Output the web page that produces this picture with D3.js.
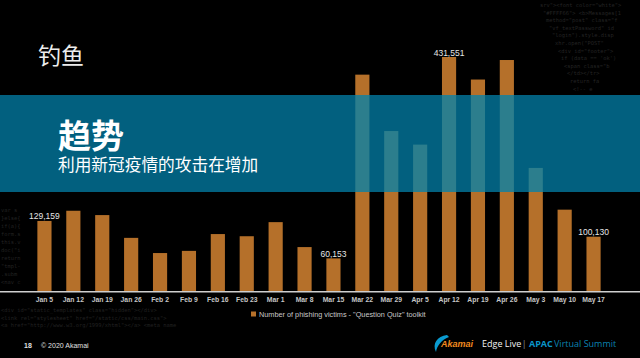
<!DOCTYPE html>
<html>
<head>
<meta charset="utf-8">
<script src="https://cdn.jsdelivr.net/npm/d3@7"></script>
<style>
html,body{margin:0;padding:0;background:#000;}
svg{display:block;}
</style>
</head>
<body>
<svg id="c" width="640" height="358"></svg>
<script>
const categories = ["Jan 5","Jan 12","Jan 19","Jan 26","Feb 2","Feb 9","Feb 16","Feb 23","Mar 1","Mar 8","Mar 15","Mar 22","Mar 29","Apr 5","Apr 12","Apr 19","Apr 26","May 3","May 10","May 17"];
const victims = [129159,148000,140000,98000,70000,74000,105000,101000,127000,81000,60153,399000,295000,270000,431551,390000,426000,227000,150000,100130];
const labelledIndices = [0,10,14,19];
const seriesName = "Number of phishing victims - \"Question Quiz\" toolkit";
const pageTitle = "钓鱼";
const bannerTitle = "趋势";
const bannerSubtitle = "利用新冠疫情的攻击在增加";
const codeLinesTop = [
  "srv\"><font color=\"white\">",
  " \"#FFFF66\"> <b>Messages[1",
  "  method=\"post\" class=\"f",
  "   \"vf_textPassword\" id",
  "    \"login\").style.disp",
  "      xhr.open(\"POST\"",
  "      <div id=\"footer\">",
  "        if (data == 'ok')",
  "         <span class=\"b",
  "           </td></tr>",
  "            return fa",
  "              <!-- e"
];
const codeLinesLeft = [
  "var s", "}else{", "if(a){", "form.s", "this.v",
  "doc(\"i", "return", "\"tmpl-", ".subm", "<nav c"
];
const codeLinesBottom = [
  "<div id=\"static_templates\" class=\"hidden\"></div>",
  "<link rel=\"stylesheet\" href=\"/static/css/main.css\">",
  "<a href=\"http://www.w3.org/1999/xhtml\"></a> <meta name"
];

const svg = d3.select("#c");
const W = 640, H = 358;
svg.append("rect").attr("width", W).attr("height", H).attr("fill", "#000");

// faint code texture
const mono = "DejaVu Sans Mono, monospace";
svg.append("g").selectAll("text").data(codeLinesTop).join("text")
  .attr("x", (d, i) => 540 + i * 3)
  .attr("y", (d, i) => 7 + i * 7.6)
  .attr("font-family", mono).attr("font-size", 5.4)
  .attr("fill", "#242424").text(d => d);
svg.append("g").selectAll("text").data(codeLinesLeft).join("text")
  .attr("x", 1)
  .attr("y", (d, i) => 212 + i * 8)
  .attr("font-family", mono).attr("font-size", 5.4)
  .attr("fill", "#222").text(d => d);
svg.append("g").selectAll("text").data(codeLinesBottom).join("text")
  .attr("x", 1)
  .attr("y", (d, i) => 312 + i * 7.5)
  .attr("font-family", mono).attr("font-size", 5.4)
  .attr("fill", "#202020").text(d => d);

// scales
const x = d3.scaleBand().domain(categories).range([30, 608]).paddingInner(0.51).paddingOuter(0.255);
const y = d3.scaleLinear().domain([0, 431551]).range([291, 57]);

// bars
const barColor = "#B5702A";
svg.append("g").selectAll("rect").data(victims).join("rect")
  .attr("x", (d, i) => x(categories[i]))
  .attr("y", d => y(d))
  .attr("width", x.bandwidth())
  .attr("height", d => y(0) - y(d))
  .attr("fill", barColor);

// axis
const axis = d3.axisBottom(x).tickSize(0).tickPadding(6);
const ag = svg.append("g").attr("transform", "translate(0,291)").call(axis);
ag.select(".domain").remove();
ag.selectAll("text")
  .attr("font-family", "Liberation Sans, Arial, sans-serif")
  .attr("font-size", 6.8).attr("font-weight", "bold").attr("fill", "#c6c6c6");
svg.append("line").attr("x1", 0).attr("x2", 640).attr("y1", 291.8).attr("y2", 291.8)
  .attr("stroke", "#cfcfcf").attr("stroke-width", 1.5);

// data labels
svg.append("g").selectAll("text").data(labelledIndices).join("text")
  .attr("x", i => x(categories[i]) + x.bandwidth() / 2)
  .attr("y", i => y(victims[i]) - 1.5)
  .attr("text-anchor", "middle")
  .attr("font-family", "Liberation Sans, Arial, sans-serif")
  .attr("font-size", 8.5).attr("fill", "#e6e6e6")
  .text(i => d3.format(",")(victims[i]));

// banner
const bannerTop = 95, bannerBottom = 192;
svg.append("rect").attr("x", 0).attr("y", bannerTop).attr("width", W).attr("height", bannerBottom - bannerTop)
  .attr("fill", "#02607F");
svg.append("clipPath").attr("id", "bclip").append("rect")
  .attr("x", 0).attr("y", bannerTop).attr("width", W).attr("height", bannerBottom - bannerTop);
svg.append("g").attr("clip-path", "url(#bclip)").selectAll("rect").data(victims).join("rect")
  .attr("x", (d, i) => x(categories[i]))
  .attr("y", d => y(d))
  .attr("width", x.bandwidth())
  .attr("height", d => y(0) - y(d))
  .attr("fill", "#2C7E8D");

const cjk = "Noto Sans CJK SC, sans-serif";
svg.append("text").attr("x", 38).attr("y", 64).attr("font-family", cjk)
  .attr("font-size", 23).attr("fill", "#ececec").text(pageTitle);
svg.append("text").attr("x", 58).attr("y", 148).attr("font-family", cjk)
  .attr("font-size", 33).attr("font-weight", "bold").attr("fill", "#ffffff").text(bannerTitle);
svg.append("text").attr("x", 58).attr("y", 170.5).attr("font-family", cjk)
  .attr("font-size", 16.7).attr("fill", "#ffffff").text(bannerSubtitle);

// legend
svg.append("rect").attr("x", 251).attr("y", 311.5).attr("width", 5).attr("height", 5).attr("fill", barColor);
svg.append("text").attr("x", 259).attr("y", 316.5)
  .attr("font-family", "Liberation Sans, Arial, sans-serif")
  .attr("font-size", 7.3).attr("fill", "#c8c8c8").text(seriesName);

// footer
const sans = "Liberation Sans, Arial, sans-serif";
svg.append("text").attr("x", 24).attr("y", 347.5).attr("font-family", sans)
  .attr("font-size", 7).attr("font-weight", "bold").attr("fill", "#e0e0e0").text("18");
svg.append("text").attr("x", 41).attr("y", 347.5).attr("font-family", sans)
  .attr("font-size", 7).attr("fill", "#e0e0e0").text("© 2020 Akamai");

// logo
svg.append("path")
  .attr("d", "M447,335 C437,336 432,344 436,352 C437,346 441,340 449,337 Z")
  .attr("fill", "#0a9bd0");
svg.append("text").attr("x", 441).attr("y", 347).attr("font-family", sans)
  .attr("font-size", 9).attr("font-weight", "bold").attr("font-style", "italic")
  .attr("fill", "#F08A1F").text("Akamai");
svg.append("text").attr("x", 482).attr("y", 347).attr("font-family", "Open Sans, sans-serif")
  .attr("font-size", 9).attr("fill", "#f2f2f2").text("Edge Live");
svg.append("text").attr("x", 523).attr("y", 347).attr("font-family", sans)
  .attr("font-size", 9).attr("fill", "#777").text("|");
svg.append("text").attr("x", 529).attr("y", 347).attr("font-family", "Open Sans, sans-serif")
  .attr("font-size", 9).attr("font-weight", "bold").attr("fill", "#0a95c9").text("APAC");
svg.append("text").attr("x", 554).attr("y", 347).attr("font-family", "Open Sans, sans-serif")
  .attr("font-size", 9).attr("fill", "#0a82b0").text("Virtual Summit");
</script>
</body>
</html>
